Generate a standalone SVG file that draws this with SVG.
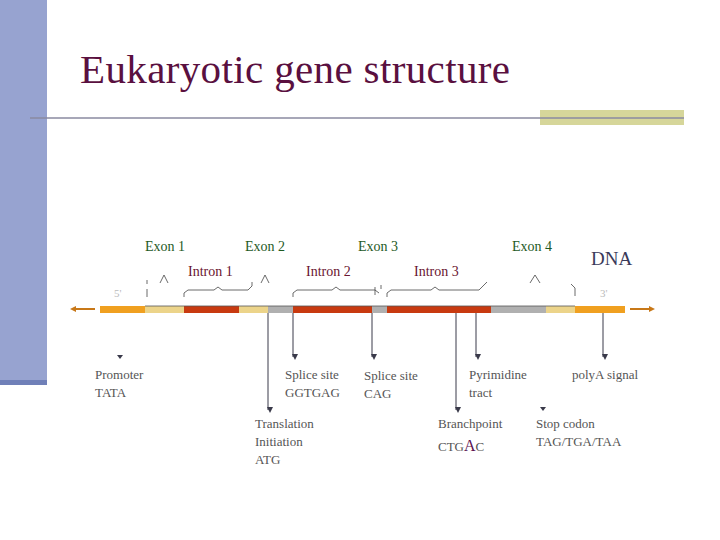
<svg xmlns="http://www.w3.org/2000/svg" width="720" height="540" viewBox="0 0 720 540">
<style>
.t{font-family:"Liberation Serif",serif;font-size:13px;fill:#555}
.ex{font-family:"Liberation Serif",serif;font-size:14px;fill:#1f5a1f}
.in{font-family:"Liberation Serif",serif;font-size:14px;fill:#6a1530}
.ln{stroke:#3a3a4a;stroke-width:1;fill:none}
.br{stroke:#444;stroke-width:0.8;fill:none}
</style>
<defs><marker id="a" markerWidth="6" markerHeight="6" refX="3" refY="5" orient="auto" markerUnits="userSpaceOnUse"><path d="M0,0 L6,0 L3,6z" fill="#3a3a4a" transform="rotate(-90 3 3)"/></marker></defs>
<rect width="720" height="540" fill="#fff"/>
<rect x="0" y="0" width="47" height="385" fill="#97a3d0"/>
<rect x="0" y="380" width="47" height="5" fill="#7080b8"/>
<text x="80" y="83" font-family="Liberation Serif,serif" font-size="41" textLength="430" fill="#5a1040">Eukaryotic gene structure</text>
<rect x="540" y="110" width="144" height="15" fill="#d6d69a"/>
<line x1="30" y1="118" x2="684" y2="118" stroke="#8a8aa0" stroke-width="1.5"/>
<g id="dna">
<rect x="100" y="306" width="45" height="7" fill="#f0a020"/>
<rect x="145" y="306" width="39" height="7" fill="#ecd48a"/>
<rect x="184" y="306" width="55" height="7" fill="#c83a10"/>
<rect x="239" y="306" width="29" height="7" fill="#ecd48a"/>
<rect x="268" y="306" width="25" height="7" fill="#b0b0b0"/>
<rect x="293" y="306" width="79" height="7" fill="#c83a10"/>
<rect x="372" y="306" width="15" height="7" fill="#b0b0b0"/>
<rect x="387" y="306" width="104" height="7" fill="#c83a10"/>
<rect x="491" y="306" width="55" height="7" fill="#b0b0b0"/>
<rect x="546" y="306" width="29" height="7" fill="#ecd48a"/>
<rect x="575" y="306" width="50" height="7" fill="#f0a020"/>
<line x1="145" y1="306" x2="575" y2="306" stroke="#555" stroke-width="0.8"/>
<path d="M95,309 H74" stroke="#c87818" stroke-width="2"/><path d="M70,309 l6,-3 v6z" fill="#c87818"/>
<path d="M630,309 H651" stroke="#c87818" stroke-width="2"/><path d="M655,309 l-6,-3 v6z" fill="#c87818"/>
<text x="114" y="297" style="font-family:'Liberation Serif',serif;fill:#bbb;font-size:11px">5'</text>
<text x="600" y="297" style="font-family:'Liberation Serif',serif;fill:#bbb;font-size:11px">3'</text>
<text x="591" y="265" font-family="Liberation Serif,serif" font-size="19" fill="#3a3a5a">DNA</text>
</g>
<g id="labels">
<text x="145" y="251" class="ex">Exon 1</text>
<text x="245" y="251" class="ex">Exon 2</text>
<text x="358" y="251" class="ex">Exon 3</text>
<text x="512" y="251" class="ex">Exon 4</text>
<text x="188" y="276" class="in">Intron 1</text>
<text x="306" y="276" class="in">Intron 2</text>
<text x="414" y="276" class="in">Intron 3</text>
<path class="br" d="M147,297 v-8 M147,284 v-4 M160,283 l4,-8 l4,8 M184,297 v-4 l4,-3 h26 l4,-3 l4,3 h26 l4,-4 v-4 M261,283 l4,-8 l4,8 M293,297 v-4 l4,-3 h35 l4,-3 l4,3 h35 l4,3 M375,295 v-8 M381,289 v-4 M387,297 v-4 l4,-3 h40 l4,-3 l4,3 h40 l4,-4 l4,-4 M530,283 l5,-8 l5,8 M571,284 l4,4 v8"/>
</g>
<g id="connectors" class="ln">
<line x1="268" y1="313" x2="268" y2="410" marker-end="url(#a)"/>
<line x1="293" y1="313" x2="293" y2="357" marker-end="url(#a)"/>
<line x1="372" y1="313" x2="372" y2="357" marker-end="url(#a)"/>
<line x1="456" y1="313" x2="456" y2="410" marker-end="url(#a)"/>
<line x1="476" y1="313" x2="476" y2="357" marker-end="url(#a)"/>
<line x1="603" y1="313" x2="603" y2="357" marker-end="url(#a)"/>
<path d="M117,355 h6 l-3,4z" fill="#3a3a4a" stroke="none"/>
<path d="M540,407 h6 l-3,4z" fill="#3a3a4a" stroke="none"/>
</g>
<g id="bottom-labels">
<text x="95" y="379" class="t">Promoter</text><text x="95" y="397" class="t">TATA</text>
<text x="285" y="379" class="t">Splice site</text><text x="285" y="397" class="t">GGTGAG</text>
<text x="364" y="380" class="t">Splice site</text><text x="364" y="398" class="t">CAG</text>
<text x="469" y="379" class="t">Pyrimidine</text><text x="469" y="397" class="t">tract</text>
<text x="572" y="379" class="t">polyA signal</text>
<text x="255" y="428" class="t">Translation</text><text x="255" y="446" class="t">Initiation</text><text x="255" y="464" class="t">ATG</text>
<text x="438" y="428" class="t">Branchpoint</text>
<text x="438" y="451" class="t">CTG<tspan style="fill:#5a1050;font-size:16px">A</tspan>C</text>
<text x="536" y="428" class="t">Stop codon</text><text x="536" y="446" class="t">TAG/TGA/TAA</text>
</g>
</svg>
